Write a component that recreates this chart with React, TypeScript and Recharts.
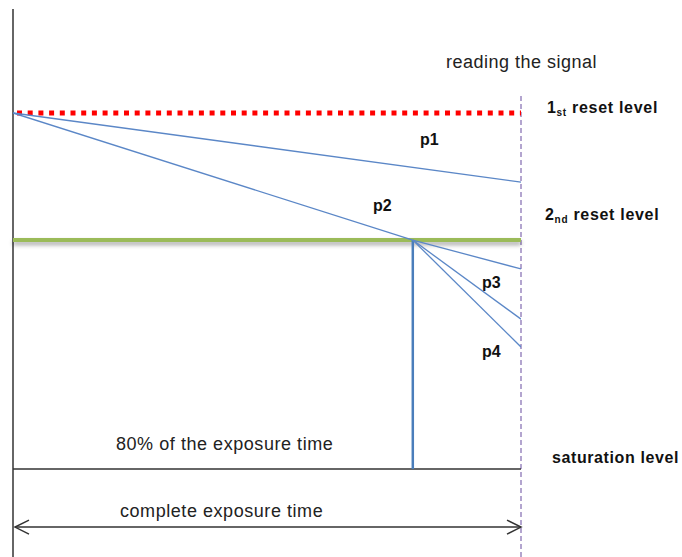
import React from 'react';
import { ComposedChart, Line, XAxis, YAxis, ReferenceLine, Customized } from 'recharts';

// Time as a fraction of the complete exposure time; signal level with saturation = 0, 1st reset = 100
const timeDomain = [0, 1];
const levelDomain = [-24.7, 129.2];
const resetLevel1 = 100;
const resetLevel2 = 64.3;
const saturationLevel = 0;
const arrowLevel = -16.3;
const readoutTop = 104.8;
const switchTime = 0.787;

const p1Data = [ { x: 0, y: 100 }, { x: 1, y: 80.6 } ];
const p2Data = [ { x: 0, y: 100 }, { x: switchTime, y: 64.3 } ];
const p3Data = [ { x: switchTime, y: 64.3 }, { x: 1, y: 56.2 } ];
const p4aData = [ { x: switchTime, y: 64.3 }, { x: 1, y: 42.1 } ];
const p4bData = [ { x: switchTime, y: 64.3 }, { x: 1, y: 34.3 } ];

const labelReading = 'reading the signal';
const label80 = '80% of the exposure time';
const labelComplete = 'complete exposure time';
const labelSaturation = 'saturation level';

const FONT = '"Liberation Sans", Arial, sans-serif';

const ArrowShape = (props: any) => {
  const { x1, y1, x2, y2 } = props;
  const l = Math.min(x1, x2) + 2;
  const r = Math.max(x1, x2);
  const y = y1;
  return (
    <g>
      <line x1={l} y1={y} x2={r} y2={y2} stroke="#333" strokeWidth={1.5} />
      <polyline points={`${l + 14},${y - 7} ${l},${y} ${l + 14},${y + 7}`} fill="none" stroke="#333" strokeWidth={1.5} />
      <polyline points={`${r - 14},${y - 7} ${r},${y} ${r - 14},${y + 7}`} fill="none" stroke="#333" strokeWidth={1.5} />
    </g>
  );
};

const Texts = () => (
  <g fontFamily={FONT}>
    <text x={446} y={68} fontSize={18} letterSpacing={0.5} fill="#222">{labelReading}</text>
    <text x={547} y={113} fontSize={16} fontWeight="bold" letterSpacing={0.7} fill="#111">
      1<tspan fontSize={10} dy={3}>st</tspan><tspan dy={-3}> reset level</tspan>
    </text>
    <text x={545} y={220} fontSize={16} fontWeight="bold" letterSpacing={0.7} fill="#111">
      2<tspan fontSize={10} dy={3}>nd</tspan><tspan dy={-3}> reset level</tspan>
    </text>
    <text x={552} y={463} fontSize={16} fontWeight="bold" letterSpacing={0.6} fill="#111">{labelSaturation}</text>
    <text x={420} y={145} fontSize={16} fontWeight="bold" fill="#111">p1</text>
    <text x={373} y={211} fontSize={16} fontWeight="bold" fill="#111">p2</text>
    <text x={482} y={288} fontSize={16} fontWeight="bold" fill="#111">p3</text>
    <text x={482} y={357} fontSize={16} fontWeight="bold" fill="#111">p4</text>
    <text x={116} y={450} fontSize={18} letterSpacing={0.55} fill="#222">{label80}</text>
    <text x={120} y={517} fontSize={18} letterSpacing={0.55} fill="#222">{labelComplete}</text>
  </g>
);

const lineColor = '#5b87c7';

export default function App() {
  return (
    <div style={{ position: 'absolute', left: 0, top: 0, width: 682, height: 557, background: '#fff' }}>
      <ComposedChart width={682} height={557} margin={{ top: 9, right: 161, bottom: 0, left: 13 }}>
        <XAxis type="number" dataKey="x" domain={timeDomain} hide allowDataOverflow />
        <YAxis type="number" dataKey="y" domain={levelDomain} hide allowDataOverflow />
        <ReferenceLine segment={[{ x: 0, y: levelDomain[0] }, { x: 0, y: levelDomain[1] }]} stroke="#666" strokeWidth={2} ifOverflow="visible" />
        <ReferenceLine segment={[{ x: 1, y: levelDomain[0] }, { x: 1, y: readoutTop }]} stroke="#9a88c0" strokeWidth={1.5} strokeDasharray="5 3" ifOverflow="visible" />
        <ReferenceLine segment={[{ x: 0, y: saturationLevel }, { x: 1, y: saturationLevel }]} stroke="#333" strokeWidth={1.5} ifOverflow="visible" />
        <ReferenceLine segment={[{ x: 0, y: resetLevel2 }, { x: 1, y: resetLevel2 }]} stroke="#9bbb59" strokeWidth={4} ifOverflow="visible" style={{ filter: 'drop-shadow(0px 3px 2px rgba(0,0,0,0.35))' }} />
        <ReferenceLine segment={[{ x: 0, y: resetLevel1 }, { x: 1, y: resetLevel1 }]} stroke="#ff0000" strokeWidth={5} strokeDasharray="5 5.7" strokeDashoffset={-4} ifOverflow="visible" />
        <ReferenceLine segment={[{ x: switchTime, y: saturationLevel }, { x: switchTime, y: resetLevel2 }]} stroke="#4a7ebb" strokeWidth={2.5} ifOverflow="visible" />
        <ReferenceLine segment={[{ x: 0, y: arrowLevel }, { x: 1, y: arrowLevel }]} shape={ArrowShape} ifOverflow="visible" />
        <Line data={p1Data} dataKey="y" type="linear" stroke={lineColor} strokeWidth={1.3} dot={false} isAnimationActive={false} />
        <Line data={p2Data} dataKey="y" type="linear" stroke={lineColor} strokeWidth={1.3} dot={false} isAnimationActive={false} />
        <Line data={p3Data} dataKey="y" type="linear" stroke={lineColor} strokeWidth={1.3} dot={false} isAnimationActive={false} />
        <Line data={p4aData} dataKey="y" type="linear" stroke={lineColor} strokeWidth={1.3} dot={false} isAnimationActive={false} />
        <Line data={p4bData} dataKey="y" type="linear" stroke={lineColor} strokeWidth={1.3} dot={false} isAnimationActive={false} />
        <Customized component={Texts} />
      </ComposedChart>
    </div>
  );
}
